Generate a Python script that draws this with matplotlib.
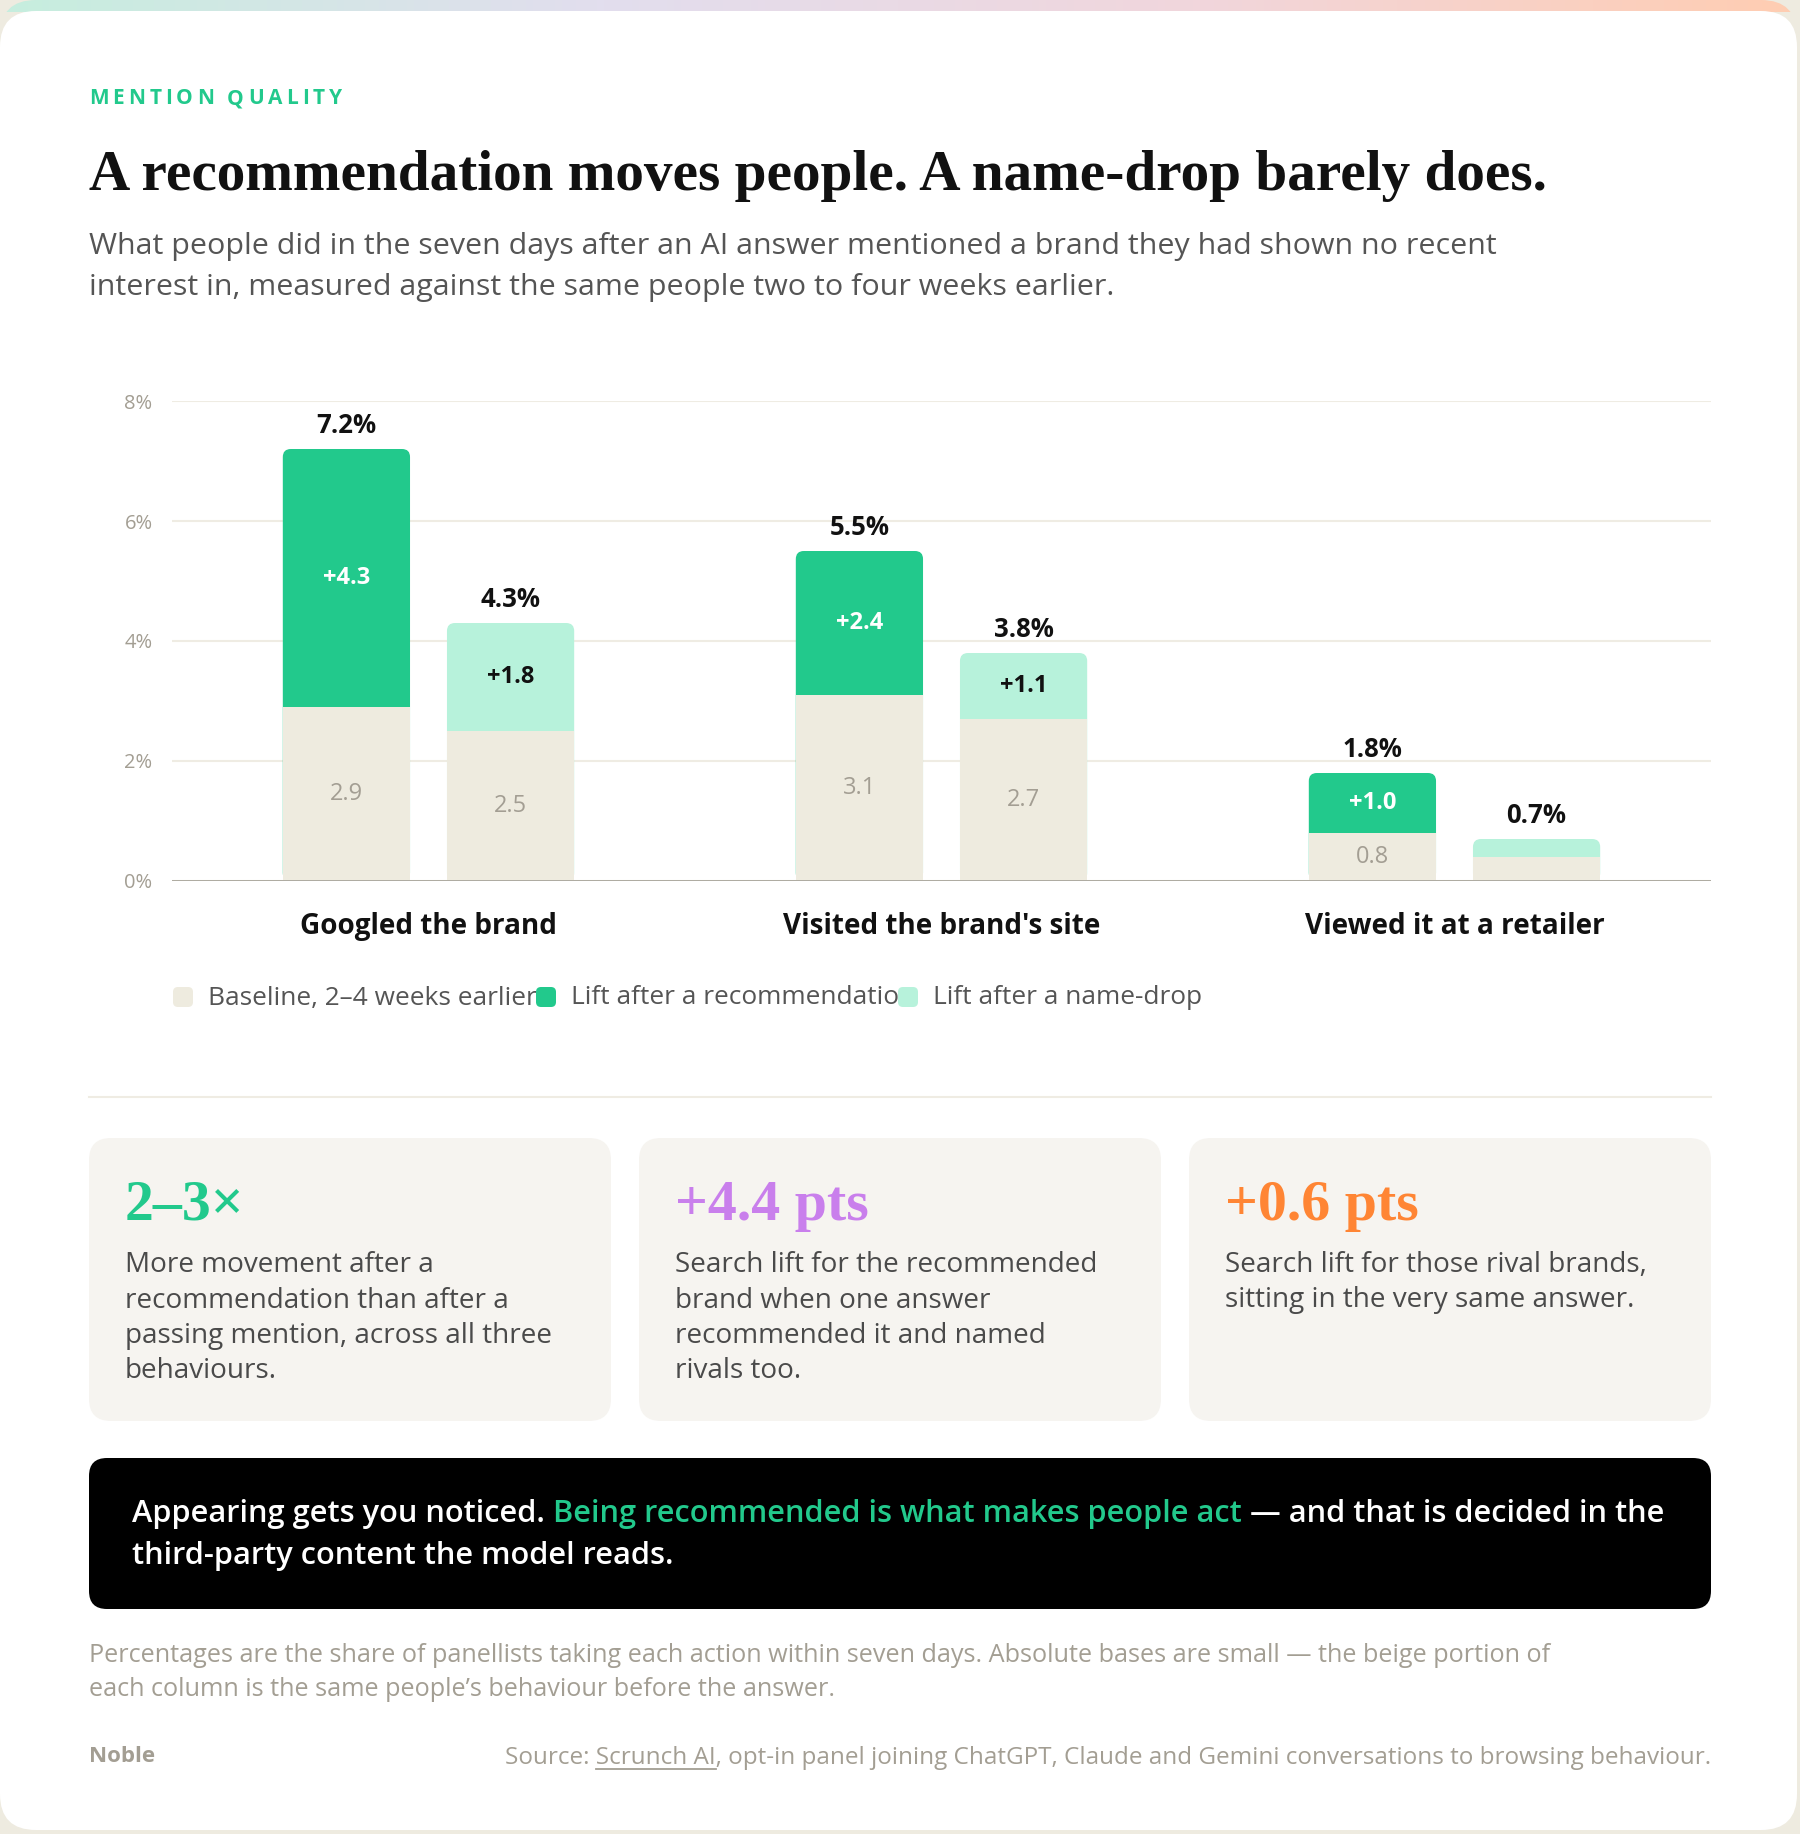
import matplotlib
matplotlib.use("Agg")
import numpy as np
import matplotlib.pyplot as plt
from matplotlib.patches import FancyBboxPatch
from matplotlib.colors import LinearSegmentedColormap

plt.rcParams["font.family"] = ["Open Sans", "DejaVu Sans"]
SERIF = ["Liberation Serif", "DejaVu Serif"]

# data
categories = ["Googled the brand", "Visited the brand's site", "Viewed it at a retailer"]
rec_base = [2.9, 3.1, 0.8]
rec_lift = [4.3, 2.4, 1.0]
drop_base = [2.5, 2.7, 0.4]
drop_lift = [1.8, 1.1, 0.3]
y_ticks = [0, 2, 4, 6, 8]
legend_labels = ["Baseline, 2–4 weeks earlier", "Lift after a recommendation", "Lift after a name-drop"]

stat_values = ["2–3×", "+4.4 pts", "+0.6 pts"]
stat_lines = [
    ["More movement after a", "recommendation than after a",
     "passing mention, across all three", "behaviours."],
    ["Search lift for the recommended", "brand when one answer",
     "recommended it and named", "rivals too."],
    ["Search lift for those rival brands,", "sitting in the very same answer."],
]

GREEN = "#22C98C"
MINT = "#B7F2DB"
BEIGE = "#EEEBDF"
GRAY = "#A39E93"
stat_colors = [GREEN, "#C97FEC", "#FF8534"]

fig = plt.figure(figsize=(18, 18.34), dpi=100, facecolor="#EEEBE0")
bg = fig.add_axes([0, 0, 1, 1])
bg.set_xlim(0, 1800)
bg.set_ylim(1834, 0)
bg.axis("off")
R = fig.canvas.get_renderer()


def tw(s, **kw):
    t = bg.text(0, 0, s, **kw)
    w = t.get_window_extent(R).width
    t.remove()
    return w


def adv(s, **kw):
    if not s:
        return 0
    return tw(s + "l", **kw) - tw("l", **kw)


def fit(s, target, **kw):
    return 20 * target / tw(s, size=20, **kw)


def rich(x, y, parts, **kw):
    prefix = ""
    for s, c in parts:
        lead = len(s) - len(s.lstrip())
        bg.text(x + adv(prefix + s[:lead], **kw), y, s.lstrip(), color=c, **kw)
        prefix += s


# card background + top gradient strip
card = FancyBboxPatch((0, 0), 1797, 1830, boxstyle="round,pad=0,rounding_size=36",
                      fc="none", ec="none")
bg.add_patch(card)
grad = LinearSegmentedColormap.from_list("g", ["#C6EEDE", "#E2DEEE", "#F1D6DC", "#FFCDB2"])
im = bg.imshow(np.linspace(0, 1, 256)[None, :], cmap=grad, extent=[0, 1797, 12, 0], aspect="auto")
im.set_clip_path(card)
bg.add_patch(FancyBboxPatch((0, 11), 1797, 1819, boxstyle="round,pad=0,rounding_size=36",
                            fc="white", ec="none"))
bg.set_xlim(0, 1800)
bg.set_ylim(1834, 0)

# header
x = 89
kw = dict(size=15, weight="bold", color=GREEN)
for ch in "MENTION QUALITY":
    bg.text(x, 104, ch, **kw)
    x += (adv(ch, **kw) if ch != " " else adv("a a", **kw) - adv("aa", **kw)) + 4.0

title = "A recommendation moves people. A name-drop barely does."
bg.text(89, 190, title, family=SERIF, weight="bold", color="#111111",
        size=fit(title, 1461, family=SERIF, weight="bold"))
sub1 = "What people did in the seven days after an AI answer mentioned a brand they had shown no recent"
sub2 = "interest in, measured against the same people two to four weeks earlier."
ss = fit(sub1, 1400)
bg.text(89, 254, sub1, size=ss, color="#555555")
bg.text(89, 295, sub2, size=ss, color="#555555")

# chart
ax = fig.add_axes([172 / 1800, 1 - 881 / 1834, 1539 / 1800, 480 / 1834], facecolor="none")
ax.set_xlim(-0.5, 2.5)
ax.set_ylim(0, 8)
xs = np.arange(len(categories))
off, bw = 0.16, 0.248
asp = (1 / 60) / (1 / 513)

for sign, base, lift, col, lcol in [(-1, rec_base, rec_lift, GREEN, "white"),
                                    (1, drop_base, drop_lift, MINT, "#111111")]:
    pos = xs + sign * off
    tot = np.array(base) + np.array(lift)
    tops = ax.bar(pos, tot, bw, color=col, zorder=2)
    for r in tops:
        r.set_visible(False)
        ax.add_patch(FancyBboxPatch((r.get_x(), 0), r.get_width(), r.get_height(),
                                    boxstyle="round,pad=0,rounding_size=%f" % (8 / 513),
                                    mutation_aspect=asp, fc=col, ec="none", zorder=2))
    ax.bar(pos, base, bw, color=BEIGE, zorder=3)
    for p, b, l, t in zip(pos, base, lift, tot):
        ax.annotate(f"{t:.1f}%", (p, t), xytext=(0, 17), textcoords="offset points",
                    ha="center", va="center", size=18.5, weight="bold", color="#111111")
        if l >= 0.5:
            ax.text(p, b + l / 2, f"+{l:.1f}", ha="center", va="center", size=17,
                    weight="bold", color=lcol, zorder=5)
        if b >= 0.5:
            ax.text(p, b / 2, f"{b:.1f}", ha="center", va="center", size=17,
                    color=GRAY, zorder=5)

ax.set_axisbelow(True)
ax.grid(axis="y", color="#EFECE3", lw=1.5)
ax.axhline(0, color="#A8A59B", lw=2.0, zorder=4)
for s in ax.spines.values():
    s.set_visible(False)
ax.set_yticks(y_ticks)
ax.set_yticklabels([f"{v}%" for v in y_ticks])
ax.tick_params(axis="y", length=0, pad=14, labelsize=14.5, labelcolor=GRAY)
ax.set_xticks(xs)
ax.set_xticklabels(categories)
cs = fit(categories[0], 257, weight="bold")
ax.tick_params(axis="x", length=0, pad=22, labelsize=cs, labelcolor="#111111")
for t in ax.get_xticklabels():
    t.set_fontweight("bold")

# legend
ls = fit(legend_labels[0], 327)
sw_x = [173, 536, 898]
for i, (sx, lab, col) in enumerate(zip(sw_x, legend_labels, [BEIGE, GREEN, MINT])):
    bg.add_patch(FancyBboxPatch((sx, 987), 20, 20, boxstyle="round,pad=0,rounding_size=5",
                                fc=col, ec="none", zorder=3))
    t = bg.text(sx + 35, 998, lab, size=ls, color="#555555", va="center", zorder=2)
    if i + 1 < len(sw_x):
        t.set_clip_box(matplotlib.transforms.Bbox([[0, 0], [sw_x[i + 1], 1834]]))
        t.set_clip_on(True)

bg.plot([89, 1711], [1097, 1097], color="#EFECE3", lw=1.5)

# stat cards
card_x = [89, 639, 1189]
bs = fit(stat_lines[0][2], 426)
vs = fit(stat_values[1], 194, family=SERIF, weight="bold")
for cx, val, col, lines in zip(card_x, stat_values, stat_colors, stat_lines):
    bg.add_patch(FancyBboxPatch((cx, 1138), 522, 283, boxstyle="round,pad=0,rounding_size=22",
                                fc="#F6F4F0", ec="none"))
    bg.text(cx + 36, 1220, val, family=SERIF, weight="bold", size=vs, color=col)
    for k, ln in enumerate(lines):
        bg.text(cx + 36, 1272 + k * 35.5, ln, size=bs, color="#4A4A4A")

# callout
bg.add_patch(FancyBboxPatch((89, 1458), 1622, 151, boxstyle="round,pad=0,rounding_size=18",
                            fc="black", ec="none"))
l1 = [("Appearing gets you noticed. ", "white"),
      ("Being recommended is what makes people act", GREEN),
      (" — and that is decided in the", "white")]
ks = fit("".join(s for s, _ in l1), 1529, weight="semibold")
rich(132, 1522, l1, size=ks, weight="semibold")
bg.text(132, 1564, "third-party content the model reads.", size=ks, weight="semibold", color="white")

# footnote
f1 = ("Percentages are the share of panellists taking each action within seven days. "
      "Absolute bases are small — the beige portion of")
f2 = "each column is the same people’s behaviour before the answer."
fs = fit(f1, 1459)
bg.text(89, 1662, f1, size=fs, color=GRAY)
bg.text(89, 1696, f2, size=fs, color=GRAY)

bg.text(89, 1762, "Noble", size=16, weight="bold", color=GRAY)
src = "Source: Scrunch AI, opt-in panel joining ChatGPT, Claude and Gemini conversations to browsing behaviour."
srs = fit(src, 1199)
bg.text(1711, 1764, src, size=srs, color=GRAY, ha="right")
x0 = 1711 - tw(src, size=srs)
u0 = x0 + adv("Source: ", size=srs)
u1 = x0 + tw("Source: Scrunch AI", size=srs)
bg.plot([u0, u1], [1769, 1769], color=GRAY, lw=1.3)

fig.savefig("out.png", dpi=100, facecolor=fig.get_facecolor())
